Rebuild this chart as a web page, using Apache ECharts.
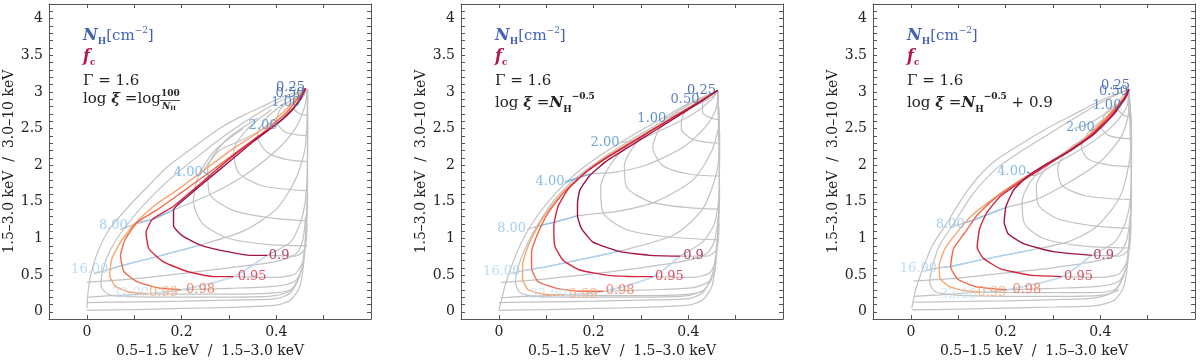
<!DOCTYPE html>
<html>
<head>
<meta charset="utf-8">
<script src="https://cdn.jsdelivr.net/npm/echarts@6/dist/echarts.min.js"></script>
<style>
  html, body { margin: 0; background: #fff; }
  #chart { width: 1200px; height: 363px; }
</style>
</head>
<body>
<div id="chart"></div>
<script>
// tick labels
const xLabels = [0, 0.2, 0.4]
const yLabels = [0, 0.5, 1, 1.5, 2, 2.5, 3, 3.5, 4]

const nhNames = ['0.25', '0.50', '1.00', '2.00', '4.00', '8.00', '16.00', '32.00']
const fcNames = ['0.9', '0.95', '0.98', '0.99']

// panel 1 : log xi = log(100/NH)
const mesh1 = [
  [[0.466, 3.03], [0.42, 2.95], [0.38, 2.83], [0.33, 2.68], [0.28, 2.5], [0.22, 2.22], [0.17, 1.98], [0.13, 1.72], [0.09, 1.45], [0.05, 1.15], [0.025, 0.85], [0.01, 0.55], [0.003, 0.3], [0, 0.05]],
  [[0.466, 3.03], [0.41, 2.88], [0.35, 2.66], [0.29, 2.4], [0.23, 2.1], [0.17, 1.78], [0.12, 1.46], [0.08, 1.15], [0.05, 0.85], [0.033, 0.55], [0.03, 0.35], [0.045, 0.24], [0.08, 0.21], [0.18, 0.2], [0.3, 0.2], [0.4, 0.22], [0.435, 0.3]],
  [[0.455, 3.0], [0.44, 2.9], [0.437, 2.78], [0.45, 2.7], [0.466, 2.68]],
  [[0.44, 2.93], [0.41, 2.78], [0.4, 2.6], [0.42, 2.45], [0.466, 2.4]],
  [[0.42, 2.86], [0.38, 2.65], [0.36, 2.4], [0.38, 2.18], [0.42, 2.08], [0.466, 2.05]],
  [[0.39, 2.76], [0.34, 2.5], [0.31, 2.2], [0.32, 1.9], [0.37, 1.72], [0.466, 1.65]],
  [[0.36, 2.64], [0.29, 2.32], [0.255, 1.95], [0.26, 1.6], [0.31, 1.38], [0.4, 1.27], [0.466, 1.24]],
  [[0.33, 2.5], [0.27, 2.2], [0.235, 1.85], [0.225, 1.5], [0.245, 1.2], [0.3, 1.0], [0.38, 0.92], [0.466, 0.9]],
  [[0.381, 0.77], [0.44, 0.76], [0.46, 0.85], [0.465, 1.2]],
  [[0.31, 0.48], [0.4, 0.47], [0.44, 0.52], [0.458, 0.7]],
  [[0.198, 0.3], [0.3, 0.32], [0.4, 0.35], [0.44, 0.42], [0.455, 0.6]],
  [[0.127, 0.245], [0.25, 0.24], [0.38, 0.25], [0.43, 0.3], [0.45, 0.5]],
  [[0.466, 3.03], [0.45, 2.9], [0.43, 2.72], [0.41, 2.6], [0.398, 2.56]],
  [[0.466, 3.03], [0.45, 2.88], [0.42, 2.7], [0.38, 2.52], [0.33, 2.35], [0.28, 2.2], [0.245, 1.92]],
  [[0.466, 3.03], [0.46, 2.8], [0.44, 2.5], [0.4, 2.2], [0.33, 1.85], [0.26, 1.6], [0.183, 1.39], [0.138, 1.26], [0.1, 1.19], [0.07, 1.12]],
  [[0.466, 3.03], [0.465, 2.6], [0.46, 2.2], [0.44, 1.8], [0.4, 1.4], [0.33, 1.1], [0.233, 0.9], [0.134, 0.73], [0.074, 0.63], [0.048, 0.58], [0.015, 0.52]],
  [[0, 0.405], [0.1, 0.45], [0.212, 0.53], [0.3, 0.6], [0.395, 0.68], [0.44, 0.78], [0.455, 0.95], [0.462, 1.3]],
  [[0.466, 3.03], [0.466, 2.4], [0.465, 1.8], [0.455, 1.3], [0.43, 0.95], [0.381, 0.77], [0.31, 0.48], [0.198, 0.3], [0.127, 0.245], [0.05, 0.22], [0.003, 0.2]],
  [[0, 0.125], [0.1, 0.135], [0.2, 0.145], [0.3, 0.16], [0.4, 0.18], [0.43, 0.26], [0.45, 0.5], [0.46, 0.9], [0.465, 1.6], [0.466, 2.4], [0.466, 3.03]],
  [[0, 0.02], [0.1, 0.03], [0.2, 0.045], [0.3, 0.06], [0.4, 0.09], [0.43, 0.16], [0.45, 0.35], [0.46, 0.8], [0.466, 1.6], [0.466, 3.03]]
]
const fc1 = [
  [[0.462, 3.05], [0.452, 2.91], [0.43, 2.73], [0.402, 2.57], [0.353, 2.33], [0.303, 2.06], [0.254, 1.8], [0.212, 1.57], [0.183, 1.39], [0.183, 1.17], [0.201, 1.04], [0.24, 0.91], [0.296, 0.82], [0.346, 0.77], [0.381, 0.77]],
  [[0.462, 3.05], [0.437, 2.78], [0.402, 2.57], [0.353, 2.35], [0.296, 2.06], [0.24, 1.75], [0.183, 1.44], [0.138, 1.26], [0.125, 1.08], [0.131, 0.86], [0.162, 0.68], [0.212, 0.55], [0.268, 0.48], [0.31, 0.48]],
  [[0.462, 3.05], [0.423, 2.73], [0.367, 2.42], [0.31, 2.15], [0.254, 1.88], [0.198, 1.62], [0.148, 1.39], [0.106, 1.22], [0.081, 0.99], [0.071, 0.77], [0.078, 0.55], [0.106, 0.41], [0.148, 0.33], [0.198, 0.3]],
  [[0.462, 3.05], [0.416, 2.73], [0.36, 2.44], [0.303, 2.2], [0.247, 1.93], [0.19, 1.66], [0.141, 1.44], [0.099, 1.19], [0.071, 0.95], [0.053, 0.73], [0.048, 0.5], [0.06, 0.35], [0.088, 0.27], [0.127, 0.245]]
]
const nh1 = [
  [], [], [], [],
  [[0.245, 1.92], [0.26, 1.85]],
  [[0.099, 1.19], [0.106, 1.22], [0.138, 1.26], [0.183, 1.39]],
  [[0.048, 0.58], [0.074, 0.63], [0.134, 0.73], [0.233, 0.9]],
  [[0.127, 0.245], [0.198, 0.3], [0.31, 0.48], [0.381, 0.77]]
]
const nhPos1 = [[0.43, 3.06], [0.429, 2.98], [0.42, 2.85], [0.372, 2.54], [0.214, 1.9], [0.056, 1.17], [0.006, 0.58], [0.092, 0.245]]
const fcPos1 = [[0.406, 0.77], [0.349, 0.48], [0.24, 0.3], [0.162, 0.26]]

// panel 2 : log xi = NH^-0.5
const mesh2 = [
  [[0.462, 3.02], [0.4, 2.84], [0.34, 2.62], [0.28, 2.4], [0.22, 2.16], [0.165, 1.9], [0.12, 1.62], [0.08, 1.3], [0.05, 0.98], [0.03, 0.68], [0.015, 0.4], [0.005, 0.15], [0, 0.02]],
  [[0.462, 3.02], [0.4, 2.82], [0.34, 2.58], [0.28, 2.35], [0.22, 2.1], [0.165, 1.84], [0.12, 1.55], [0.085, 1.22], [0.058, 0.9], [0.04, 0.6], [0.035, 0.4], [0.045, 0.26], [0.08, 0.21], [0.18, 0.2], [0.3, 0.2], [0.4, 0.22], [0.435, 0.3]],
  [[0.45, 2.97], [0.43, 2.85], [0.43, 2.72], [0.45, 2.64], [0.465, 2.62]],
  [[0.42, 2.87], [0.39, 2.7], [0.385, 2.5], [0.41, 2.35], [0.465, 2.3]],
  [[0.38, 2.72], [0.34, 2.5], [0.325, 2.25], [0.345, 2.0], [0.4, 1.88], [0.465, 1.85]],
  [[0.33, 2.52], [0.29, 2.3], [0.265, 2.0], [0.27, 1.7], [0.32, 1.5], [0.4, 1.42], [0.465, 1.4]],
  [[0.28, 2.32], [0.24, 2.05], [0.215, 1.7], [0.22, 1.35], [0.27, 1.12], [0.36, 1.02], [0.465, 0.98]],
  [[0.383, 0.76], [0.44, 0.76], [0.46, 0.85], [0.465, 1.2]],
  [[0.326, 0.48], [0.41, 0.47], [0.445, 0.53], [0.46, 0.72]],
  [[0.221, 0.28], [0.32, 0.3], [0.41, 0.33], [0.445, 0.42], [0.458, 0.6]],
  [[0.14, 0.23], [0.26, 0.22], [0.38, 0.23], [0.43, 0.28], [0.45, 0.45]],
  [[0.462, 3.02], [0.45, 2.93], [0.41, 2.8], [0.37, 2.68], [0.351, 2.64]],
  [[0.462, 3.02], [0.45, 2.9], [0.41, 2.7], [0.35, 2.5], [0.3, 2.36], [0.256, 2.31]],
  [[0.462, 3.02], [0.46, 2.8], [0.44, 2.55], [0.39, 2.25], [0.31, 2.0], [0.24, 1.9], [0.192, 1.88], [0.14, 1.77]],
  [[0.462, 3.02], [0.465, 2.6], [0.45, 2.2], [0.41, 1.8], [0.33, 1.5], [0.25, 1.37], [0.166, 1.31], [0.116, 1.22], [0.083, 1.17], [0.06, 1.12]],
  [[0.462, 3.02], [0.466, 2.4], [0.46, 1.9], [0.43, 1.4], [0.37, 1.05], [0.256, 0.83], [0.12, 0.64], [0.069, 0.58], [0.05, 0.56], [0.025, 0.52]],
  [[0.004, 0.4], [0.1, 0.45], [0.2, 0.52], [0.3, 0.6], [0.39, 0.69], [0.44, 0.8], [0.456, 0.98], [0.463, 1.3]],
  [[0.462, 3.02], [0.466, 2.2], [0.465, 1.6], [0.455, 1.2], [0.43, 0.95], [0.383, 0.76], [0.326, 0.48], [0.221, 0.28], [0.14, 0.23], [0.05, 0.21], [0.004, 0.19]],
  [[0, 0.125], [0.1, 0.135], [0.2, 0.145], [0.3, 0.16], [0.4, 0.18], [0.43, 0.26], [0.45, 0.5], [0.46, 0.9], [0.465, 1.6], [0.466, 2.4], [0.462, 3.02]],
  [[0, 0.02], [0.1, 0.03], [0.2, 0.045], [0.3, 0.06], [0.4, 0.09], [0.43, 0.16], [0.45, 0.35], [0.46, 0.8], [0.466, 1.6], [0.462, 3.02]]
]
const fc2 = [
  [[0.462, 3.02], [0.425, 2.86], [0.383, 2.69], [0.326, 2.46], [0.277, 2.26], [0.228, 2.06], [0.192, 1.86], [0.171, 1.66], [0.166, 1.48], [0.166, 1.31], [0.175, 1.13], [0.199, 0.95], [0.256, 0.82], [0.319, 0.77], [0.383, 0.76]],
  [[0.462, 3.02], [0.418, 2.84], [0.354, 2.6], [0.291, 2.35], [0.235, 2.13], [0.185, 1.91], [0.147, 1.68], [0.125, 1.44], [0.116, 1.17], [0.118, 0.9], [0.136, 0.7], [0.171, 0.57], [0.228, 0.5], [0.291, 0.48], [0.326, 0.48]],
  [[0.462, 3.02], [0.411, 2.82], [0.347, 2.57], [0.284, 2.33], [0.228, 2.11], [0.178, 1.88], [0.136, 1.62], [0.104, 1.35], [0.083, 1.08], [0.069, 0.82], [0.069, 0.59], [0.083, 0.41], [0.122, 0.32], [0.171, 0.28], [0.221, 0.28]],
  [[0.462, 3.02], [0.404, 2.8], [0.34, 2.55], [0.277, 2.31], [0.214, 2.06], [0.165, 1.8], [0.122, 1.53], [0.087, 1.22], [0.062, 0.9], [0.05, 0.64], [0.05, 0.44], [0.062, 0.3], [0.094, 0.24], [0.14, 0.23]]
]
const nh2 = [
  [], [], [], [],
  [[0.14, 1.77], [0.192, 1.88]],
  [[0.075, 1.15], [0.083, 1.17], [0.116, 1.22], [0.166, 1.31]],
  [[0.05, 0.56], [0.069, 0.58], [0.12, 0.64], [0.256, 0.83]],
  [[0.14, 0.23], [0.221, 0.28], [0.326, 0.48], [0.383, 0.76]]
]
const nhPos2 = [[0.428, 3.02], [0.393, 2.89], [0.323, 2.64], [0.224, 2.31], [0.108, 1.77], [0.027, 1.13], [0.006, 0.55], [0.104, 0.24]]
const fcPos2 = [[0.411, 0.76], [0.36, 0.48], [0.256, 0.29], [0.178, 0.23]]

// panel 3 : log xi = NH^-0.5 + 0.9
const mesh3 = [
  [[0.46, 3.04], [0.4, 2.88], [0.34, 2.68], [0.287, 2.5], [0.23, 2.28], [0.17, 2.02], [0.12, 1.66], [0.075, 1.2], [0.045, 0.9], [0.026, 0.6], [0.01, 0.3], [0.002, 0.05]],
  [[0.46, 3.04], [0.4, 2.85], [0.345, 2.64], [0.29, 2.42], [0.235, 2.2], [0.18, 1.95], [0.13, 1.6], [0.09, 1.2], [0.06, 0.9], [0.045, 0.6], [0.04, 0.4], [0.05, 0.28], [0.09, 0.23], [0.2, 0.21], [0.32, 0.21], [0.41, 0.23], [0.44, 0.3]],
  [[0.455, 3.0], [0.44, 2.88], [0.438, 2.76], [0.45, 2.68], [0.465, 2.66]],
  [[0.435, 2.84], [0.41, 2.7], [0.402, 2.52], [0.42, 2.4], [0.465, 2.36]],
  [[0.405, 2.62], [0.375, 2.45], [0.36, 2.25], [0.375, 2.08], [0.42, 2.0], [0.465, 1.98]],
  [[0.37, 2.38], [0.33, 2.2], [0.31, 1.95], [0.32, 1.72], [0.37, 1.58], [0.465, 1.53]],
  [[0.33, 2.2], [0.29, 2.0], [0.265, 1.72], [0.27, 1.45], [0.31, 1.27], [0.39, 1.17], [0.465, 1.14]],
  [[0.28, 1.98], [0.25, 1.75], [0.235, 1.5], [0.24, 1.2], [0.28, 1.0], [0.36, 0.9], [0.465, 0.87]],
  [[0.382, 0.77], [0.44, 0.76], [0.46, 0.85], [0.465, 1.2]],
  [[0.319, 0.48], [0.4, 0.47], [0.44, 0.52], [0.458, 0.7]],
  [[0.202, 0.3], [0.3, 0.32], [0.4, 0.35], [0.44, 0.42], [0.455, 0.6]],
  [[0.146, 0.27], [0.26, 0.26], [0.38, 0.26], [0.43, 0.3], [0.45, 0.5]],
  [[0.46, 3.04], [0.45, 2.88], [0.41, 2.7], [0.37, 2.55], [0.345, 2.5]],
  [[0.46, 3.04], [0.455, 2.78], [0.42, 2.5], [0.36, 2.22], [0.3, 2.0], [0.26, 1.86], [0.245, 1.91]],
  [[0.46, 3.04], [0.46, 2.75], [0.445, 2.4], [0.4, 2.05], [0.33, 1.75], [0.26, 1.52], [0.2, 1.42], [0.14, 1.27], [0.118, 1.22], [0.09, 1.17]],
  [[0.46, 3.04], [0.466, 2.5], [0.46, 2.0], [0.44, 1.55], [0.39, 1.15], [0.33, 0.95], [0.26, 0.85], [0.142, 0.7], [0.085, 0.62], [0.058, 0.6], [0.03, 0.56]],
  [[0.005, 0.42], [0.1, 0.46], [0.2, 0.53], [0.3, 0.6], [0.39, 0.69], [0.44, 0.8], [0.456, 0.98], [0.463, 1.3]],
  [[0.46, 3.04], [0.466, 2.3], [0.465, 1.7], [0.455, 1.25], [0.43, 0.95], [0.382, 0.77], [0.319, 0.48], [0.202, 0.3], [0.146, 0.27], [0.06, 0.23], [0.005, 0.21]],
  [[0.002, 0.13], [0.1, 0.14], [0.2, 0.15], [0.3, 0.165], [0.39, 0.19], [0.43, 0.28], [0.45, 0.5], [0.46, 0.9], [0.465, 1.6], [0.466, 2.4], [0.46, 3.04]],
  [[0.002, 0.025], [0.1, 0.035], [0.2, 0.05], [0.3, 0.065], [0.39, 0.085], [0.43, 0.16], [0.45, 0.35], [0.46, 0.8], [0.466, 1.6], [0.46, 3.04]]
]
const fc3 = [
  [[0.46, 3.04], [0.456, 2.95], [0.428, 2.69], [0.386, 2.42], [0.337, 2.2], [0.287, 2.02], [0.245, 1.84], [0.217, 1.66], [0.201, 1.44], [0.197, 1.22], [0.206, 1.06], [0.238, 0.93], [0.301, 0.82], [0.382, 0.77]],
  [[0.46, 3.04], [0.453, 2.93], [0.421, 2.66], [0.379, 2.4], [0.329, 2.17], [0.28, 1.97], [0.231, 1.77], [0.188, 1.57], [0.16, 1.35], [0.145, 1.13], [0.14, 0.88], [0.153, 0.73], [0.188, 0.59], [0.252, 0.5], [0.319, 0.48]],
  [[0.46, 3.04], [0.449, 2.91], [0.414, 2.64], [0.372, 2.37], [0.322, 2.15], [0.266, 1.93], [0.217, 1.73], [0.174, 1.53], [0.139, 1.31], [0.114, 1.08], [0.09, 0.86], [0.084, 0.61], [0.1, 0.44], [0.139, 0.34], [0.202, 0.3]],
  [[0.46, 3.04], [0.446, 2.89], [0.407, 2.62], [0.365, 2.35], [0.315, 2.13], [0.259, 1.91], [0.21, 1.71], [0.167, 1.51], [0.128, 1.31], [0.097, 1.08], [0.072, 0.86], [0.06, 0.64], [0.061, 0.46], [0.079, 0.35], [0.111, 0.29], [0.146, 0.27]]
]
const nh3 = [
  [], [], [], [],
  [[0.245, 1.91], [0.26, 1.86]],
  [[0.118, 1.22], [0.14, 1.27], [0.2, 1.42]],
  [[0.058, 0.6], [0.085, 0.62], [0.142, 0.7], [0.26, 0.85]],
  [[0.146, 0.27], [0.202, 0.3], [0.319, 0.48], [0.382, 0.77]]
]
const nhPos3 = [[0.432, 3.08], [0.428, 3.0], [0.414, 2.82], [0.358, 2.51], [0.213, 1.91], [0.083, 1.19], [0.016, 0.59], [0.1, 0.24]]
const fcPos3 = [[0.407, 0.77], [0.354, 0.48], [0.245, 0.3], [0.171, 0.26]]

const panels = [
  { mesh: mesh1, fc: fc1, nh: nh1, nhPos: nhPos1, fcPos: fcPos1 },
  { mesh: mesh2, fc: fc2, nh: nh2, nhPos: nhPos2, fcPos: fcPos2 },
  { mesh: mesh3, fc: fc3, nh: nh3, nhPos: nhPos3, fcPos: fcPos3 }
]

const nhColors = ['#2c4f9e', '#3363b3', '#3a78c2', '#4a90d2', '#6aade3', '#8fc3ee', '#a9d2f4', '#c6e0f7']
const fcColors = ['#a0134a', '#d3263d', '#ee6a4c', '#f6a56f']
const gray = '#c2c2c2'
const serif = 'DejaVu Serif'
const ink = '#222'

const xTickVals = [0, 0.1, 0.2, 0.3, 0.4, 0.5]
const yTickVals = []
for (let i = 0; i <= 41; i++) yTickVals.push(+(i * 0.1).toFixed(1))

const lefts = [49, 461, 873]
const grid = [], xAxis = [], yAxis = [], series = [], graphic = []

const frame = { onZero: false, lineStyle: { color: '#555', width: 1 } }
const fmt = v => String(+v.toFixed(1))

panels.forEach((p, i) => {
  grid.push({ left: lefts[i], top: 4, width: 322, height: 321 })
  xAxis.push({
    gridIndex: i, type: 'value', min: -0.08, max: 0.6, position: 'bottom',
    axisLine: frame, splitLine: { show: false },
    axisTick: { inside: true, length: 4, customValues: xTickVals, lineStyle: { color: '#555' } },
    axisLabel: { customValues: xLabels, formatter: fmt, margin: 6, fontFamily: serif, fontSize: 14, color: ink },
    name: '0.5\u20131.5 keV  /  1.5\u20133.0 keV', nameLocation: 'middle', nameGap: 20,
    nameTextStyle: { fontFamily: serif, fontSize: 14, color: ink }
  })
  xAxis.push({
    gridIndex: i, type: 'value', min: -0.08, max: 0.6, position: 'top',
    axisLine: frame, splitLine: { show: false },
    axisTick: { inside: true, length: 4, customValues: xTickVals, lineStyle: { color: '#555' } },
    axisLabel: { show: false }
  })
  yAxis.push({
    gridIndex: i, type: 'value', min: -0.1, max: 4.2, position: 'left',
    axisLine: frame, splitLine: { show: false },
    axisTick: { inside: true, length: 4, customValues: yTickVals, lineStyle: { color: '#555' } },
    axisLabel: { customValues: yLabels, formatter: fmt, margin: 6, fontFamily: serif, fontSize: 14, color: ink },
    name: '1.5\u20133.0 keV  /  3.0\u201310 keV', nameLocation: 'middle', nameGap: 30, nameRotate: 90,
    nameTextStyle: { fontFamily: serif, fontSize: 14, color: ink }
  })
  yAxis.push({
    gridIndex: i, type: 'value', min: -0.1, max: 4.2, position: 'right',
    axisLine: frame, splitLine: { show: false },
    axisTick: { inside: true, length: 4, customValues: yTickVals, lineStyle: { color: '#555' } },
    axisLabel: { show: false }
  })

  const ax = { xAxisIndex: i * 2, yAxisIndex: i * 2 }
  p.mesh.forEach(line => series.push({
    type: 'line', ...ax, data: line, showSymbol: false, smooth: 0.25, silent: true,
    lineStyle: { color: gray, width: 1.2 }, z: 1
  }))
  p.nh.forEach((line, k) => {
    if (line.length) series.push({
      type: 'line', ...ax, data: line, showSymbol: false, smooth: 0.3, silent: true,
      lineStyle: { color: nhColors[k], width: 1.3 }, z: 2
    })
  })
  p.fc.forEach((line, k) => series.push({
    type: 'line', ...ax, data: line, showSymbol: false, smooth: 0.15, silent: true,
    lineStyle: { color: fcColors[k], width: 1.4 }, z: 3 + (3 - k)
  }))
  series.push({
    type: 'scatter', ...ax, symbolSize: 0, silent: true, z: 10,
    data: p.nhPos.map((v, k) => ({ value: v, name: nhNames[k], label: { color: nhColors[k] } }))
      .concat(p.fcPos.map((v, k) => ({ value: v, name: fcNames[k], label: { color: fcColors[k] } }))),
    label: { show: true, position: 'inside', formatter: '{b}', fontFamily: serif, fontSize: 13 }
  })

  const ox = lefts[i] + 34
  graphic.push({
    type: 'text', left: ox, top: 26,
    style: {
      text: '{n|N}{s|H}{t|[cm}{p|\u22122}{t|]}', fill: '#4563b5',
      rich: {
        n: { fontFamily: serif, fontSize: 16, fontStyle: 'italic', fontWeight: 'bold', fill: '#4563b5', lineHeight: 20 },
        s: { fontFamily: serif, fontSize: 9, fontWeight: 'bold', fill: '#4563b5', verticalAlign: 'bottom', lineHeight: 20 },
        t: { fontFamily: serif, fontSize: 15, fill: '#4563b5', lineHeight: 20 },
        p: { fontFamily: serif, fontSize: 9, fill: '#4563b5', verticalAlign: 'top', lineHeight: 20 }
      }
    }
  })
  graphic.push({
    type: 'text', left: ox, top: 49,
    style: {
      text: '{n|f}{s|c}',
      rich: {
        n: { fontFamily: serif, fontSize: 16, fontStyle: 'italic', fontWeight: 'bold', fill: '#b3184c', lineHeight: 20 },
        s: { fontFamily: serif, fontSize: 9, fontWeight: 'bold', fill: '#b3184c', verticalAlign: 'bottom', lineHeight: 20 }
      }
    }
  })
  graphic.push({
    type: 'text', left: ox, top: 74,
    style: { text: '\u0393 = 1.6', fontFamily: serif, fontSize: 15, fill: ink }
  })
})

// log xi lines
const lx = i => lefts[i] + 34
graphic.push({
  type: 'text', left: lx(0), top: 92,
  style: {
    text: '{t|log }{x|\u03be}{t| =log}', rich: {
      t: { fontFamily: serif, fontSize: 15, fill: ink, lineHeight: 20 },
      x: { fontFamily: serif, fontSize: 15, fontStyle: 'italic', fontWeight: 'bold', fill: ink, lineHeight: 20 }
    }
  }
})
graphic.push({ type: 'text', left: lx(0) + 78, top: 89, style: { text: '100', fontFamily: serif, fontSize: 9, fontWeight: 'bold', fill: ink } })
graphic.push({ type: 'line', shape: { x1: lx(0) + 77, y1: 100.5, x2: lx(0) + 97, y2: 100.5 }, style: { stroke: ink, lineWidth: 0.8 } })
graphic.push({
  type: 'text', left: lx(0) + 79, top: 102,
  style: { text: '{n|N}{s|H}', rich: { n: { fontFamily: serif, fontSize: 9, fontStyle: 'italic', fontWeight: 'bold', fill: ink }, s: { fontFamily: serif, fontSize: 6, fontWeight: 'bold', fill: ink, verticalAlign: 'bottom' } } }
})
;[1, 2].forEach(i => {
  graphic.push({
    type: 'text', left: lx(i), top: 92,
    style: {
      text: '{t|log }{x|\u03be}{t| =}{n|N}{s|H}{p|\u22120.5}' + (i === 2 ? '{t| + 0.9}' : ''), rich: {
        t: { fontFamily: serif, fontSize: 15, fill: ink, lineHeight: 22 },
        x: { fontFamily: serif, fontSize: 15, fontStyle: 'italic', fontWeight: 'bold', fill: ink, lineHeight: 22 },
        n: { fontFamily: serif, fontSize: 15, fontStyle: 'italic', fontWeight: 'bold', fill: ink, lineHeight: 22 },
        s: { fontFamily: serif, fontSize: 9, fontWeight: 'bold', fill: ink, verticalAlign: 'bottom', lineHeight: 22 },
        p: { fontFamily: serif, fontSize: 9, fontWeight: 'bold', fill: ink, verticalAlign: 'top', lineHeight: 22 }
      }
    }
  })
})

const chart = echarts.init(document.getElementById('chart'))
chart.setOption({ animation: false, grid, xAxis, yAxis, series, graphic })
</script>
</body>
</html>
